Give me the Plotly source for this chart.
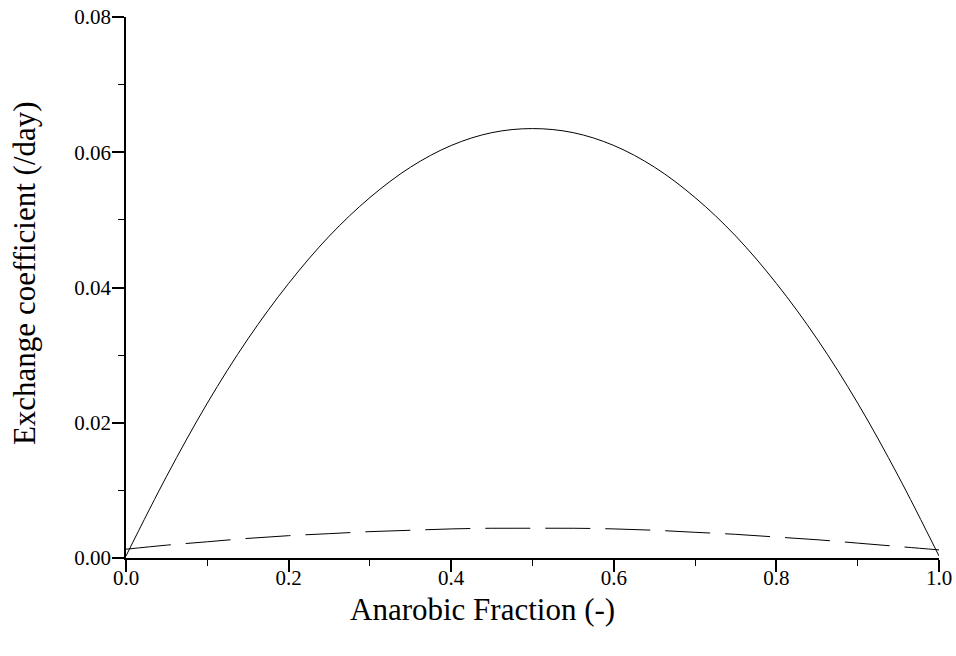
import plotly.graph_objects as go

x_vals = [0.0, 0.05, 0.1, 0.15, 0.2, 0.25, 0.3, 0.35, 0.4, 0.45, 0.5,
          0.55, 0.6, 0.65, 0.7, 0.75, 0.8, 0.85, 0.9, 0.95, 1.0]
solid_vals = [0.0003, 0.0121, 0.0229, 0.0324, 0.0406, 0.0476, 0.0533, 0.0578, 0.0610, 0.0629, 0.0635,
              0.0629, 0.0610, 0.0578, 0.0533, 0.0476, 0.0406, 0.0324, 0.0229, 0.0121, 0.0003]
dashed_vals = [0.0013, 0.0019, 0.0024, 0.0029, 0.0033, 0.0036, 0.0039, 0.0041, 0.0043, 0.0044, 0.0044,
               0.0044, 0.0043, 0.0041, 0.0038, 0.0035, 0.0031, 0.0027, 0.0022, 0.0017, 0.0012]
x_ticks = [0.0, 0.2, 0.4, 0.6, 0.8, 1.0]
x_ticklabels = ["0.0", "0.2", "0.4", "0.6", "0.8", "1.0"]
y_ticks = [0.0, 0.02, 0.04, 0.06, 0.08]
y_ticklabels = ["0.00", "0.02", "0.04", "0.06", "0.08"]
x_title = "Anarobic Fraction (-)"
y_title = "Exchange coefficient (/day)"

fig = go.Figure()
fig.add_trace(go.Scatter(x=x_vals, y=solid_vals, mode="lines",
                         line=dict(color="black", width=1, shape="spline"), showlegend=False))
fig.add_trace(go.Scatter(x=x_vals, y=dashed_vals, mode="lines",
                         line=dict(color="black", width=1, shape="spline", dash="45px,15px"), showlegend=False))

font = "Liberation Serif, Times New Roman, serif"
fig.update_layout(
    width=956, height=656,
    margin=dict(l=126, r=17, t=17, b=98),
    paper_bgcolor="white", plot_bgcolor="white",
    font=dict(family=font, color="black", size=21),
)
fig.update_xaxes(
    range=[0, 1], tickvals=x_ticks, ticktext=x_ticklabels,
    showgrid=False, zeroline=False, showline=True, linecolor="black", linewidth=1.5,
    ticks="outside", ticklen=12, tickcolor="black", tickwidth=1.5,
    minor=dict(dtick=0.1, ticks="outside", ticklen=6, tickcolor="black", tickwidth=1),
    tickfont=dict(size=21), ticklabelstandoff=-12, automargin=False,
    ticklabeloverflow="allow",
)
fig.update_yaxes(
    range=[0, 0.08], tickvals=y_ticks, ticktext=y_ticklabels,
    showgrid=False, zeroline=False, showline=True, linecolor="black", linewidth=1.5,
    ticks="outside", ticklen=12, tickcolor="black", tickwidth=1.5,
    minor=dict(dtick=0.01, ticks="outside", ticklen=6, tickcolor="black", tickwidth=1),
    tickfont=dict(size=21), ticklabelstandoff=-3, automargin=False,
    ticklabeloverflow="allow",
)
fig.add_annotation(text=x_title, xref="paper", yref="paper", x=0.4385, y=-0.096,
                   xanchor="center", yanchor="middle", showarrow=False, font=dict(size=31))
fig.add_annotation(text=y_title, xref="paper", yref="paper", x=-0.124, y=0.527,
                   xanchor="center", yanchor="middle", textangle=-90, showarrow=False,
                   borderpad=0, font=dict(size=31))
fig.write_html(
    "out.html",
    config={"displayModeBar": False},
    post_script="document.body.style.margin='0';document.body.style.overflow='hidden';",
)
